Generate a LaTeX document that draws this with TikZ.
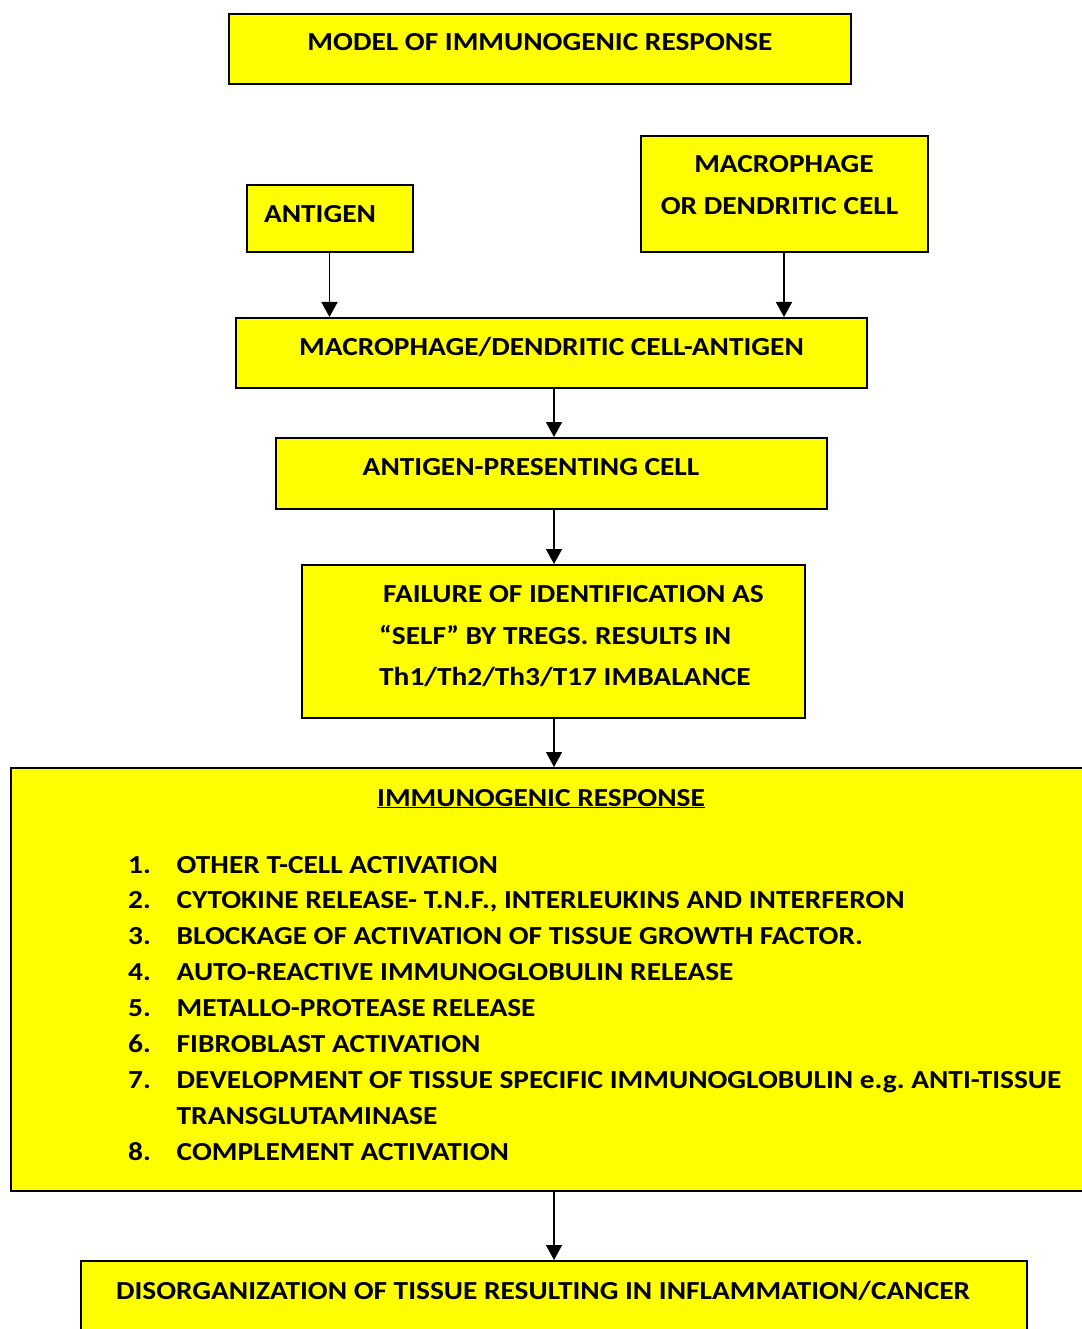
\documentclass[tikz,border=0pt]{standalone}
\usepackage{fontspec}
\setmainfont{Carlito}[FakeStretch=1.13]
\usetikzlibrary{arrows.meta}
\definecolor{boxyellow}{RGB}{255,255,0}
\frenchspacing

\begin{document}
\begin{tikzpicture}[
    x=1pt, y=-1pt,
    every node/.style={font=\fontsize{26}{36}\selectfont\bfseries},
    % Yellow box style
    box/.style={
        rectangle, draw=black, fill=boxyellow, line width=2pt,
        inner sep=0pt
    },
    % Text set inside a box
    box text/.style={inner sep=0pt, anchor=base},
    % Downward arrow style
    flow/.style={
        -{Triangle[length=15pt, width=16pt]}, line width=1.6pt
    }
]
\useasboundingbox (0,0) rectangle (1081,1329);

% --- Boxes ---
\node[box, minimum width=622pt, minimum height=70pt] (title) at (540,49) {};
\node[box, minimum width=166pt, minimum height=67pt] (antigen) at (329.5,218.5) {};
\node[box, minimum width=287pt, minimum height=116pt] (macro) at (784,194) {};
\node[box, minimum width=631pt, minimum height=70pt] (complex) at (551.5,353) {};
\node[box, minimum width=551pt, minimum height=71pt] (apc) at (551.5,473.5) {};
\node[box, minimum width=503pt, minimum height=153pt] (failure) at (553.5,641.5) {};
\node[box, minimum width=1090pt, minimum height=423pt] (response) at (556,979.5) {};
\node[box, minimum width=946pt, minimum height=100pt] (disorder) at (554,1311) {};

% Vertical line of the middle arrows
\coordinate (spine) at (554,0);

% --- Box texts ---
\node[box text] (title text) at (540,51) {MODEL OF IMMUNOGENIC RESPONSE};
\node[box text] (antigen text) at (320,222.5) {ANTIGEN};
\node[box text] (macro text a) at (784,172.5) {MACROPHAGE};
\node[box text] (macro text b) at (779.5,214.5) {OR DENDRITIC CELL};
\node[box text] (complex text) at (551.5,355) {MACROPHAGE/DENDRITIC CELL-ANTIGEN};
\node[box text] (apc text) at (531,475.5) {ANTIGEN-PRESENTING CELL};
\node[box text, anchor=base west] (failure text a) at (383,602.5) {FAILURE OF IDENTIFICATION AS};
\node[box text, anchor=base west] (failure text b) at (379,644) {“SELF” BY TREGS. RESULTS IN};
\node[box text, anchor=base west] (failure text c) at (379,685.5) {Th1/Th2/Th3/T17 IMBALANCE};
\node[box text] (response head) at (541,806) {\underline{IMMUNOGENIC RESPONSE}};

% Numbered list of the response (row 7 holds the wrapped line)
\foreach \n/\row/\item in {
    1/0/OTHER T-CELL ACTIVATION,
    2/1/CYTOKINE RELEASE- T.N.F.{,} INTERLEUKINS AND INTERFERON,
    3/2/BLOCKAGE OF ACTIVATION OF TISSUE GROWTH FACTOR.,
    4/3/AUTO-REACTIVE IMMUNOGLOBULIN RELEASE,
    5/4/METALLO-PROTEASE RELEASE,
    6/5/FIBROBLAST ACTIVATION,
    7/6/DEVELOPMENT OF TISSUE SPECIFIC IMMUNOGLOBULIN e.g. ANTI-TISSUE,
    8/8/COMPLEMENT ACTIVATION} {
  \node[box text, anchor=base west] (num \n) at (128,873+35.9*\row) {\n.};
  \node[box text, anchor=base west] (item \n) at (176.5,873+35.9*\row) {\item};
}
\node[box text, anchor=base west] (item 7 wrap) at (176.5,873+35.9*7) {TRANSGLUTAMINASE};

\node[box text] (disorder text) at (543,1299.5) {DISORGANIZATION OF TISSUE RESULTING IN INFLAMMATION/CANCER};

% --- Arrows ---
\draw[flow] (antigen.south) -- (antigen.south |- complex.north);
\draw[flow] (macro.south) -- (macro.south |- complex.north);
\draw[flow] (spine |- complex.south) -- (spine |- apc.north);
\draw[flow] (spine |- apc.south) -- (spine |- failure.north);
\draw[flow] (spine |- failure.south) -- (spine |- response.north);
\draw[flow] (spine |- response.south) -- (spine |- disorder.north);

\end{tikzpicture}
\end{document}
